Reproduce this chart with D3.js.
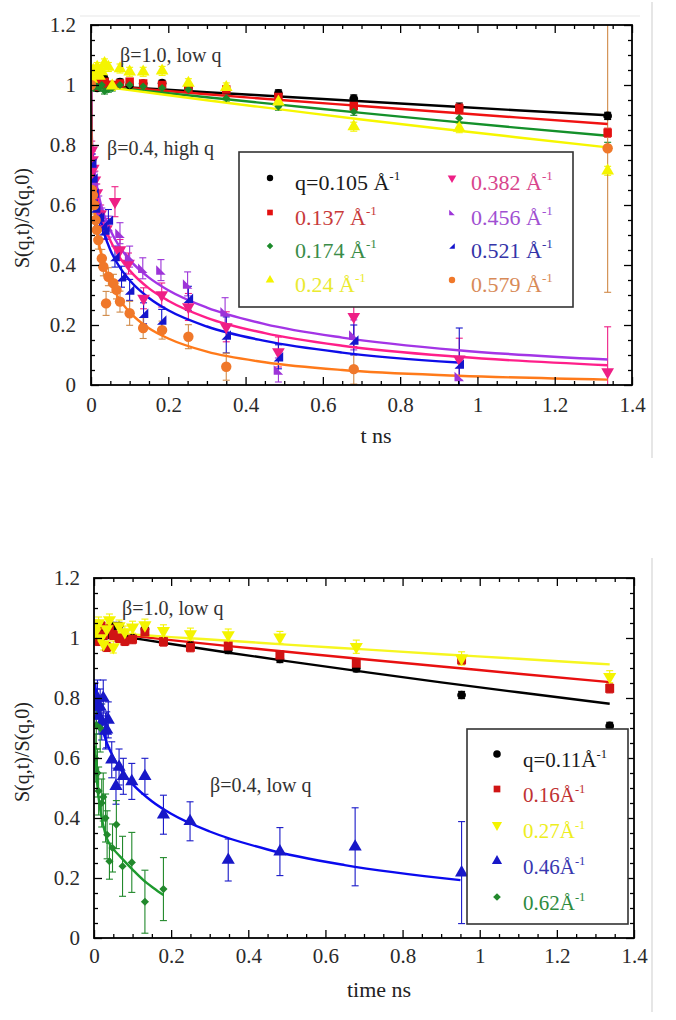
<!DOCTYPE html>
<html><head><meta charset="utf-8">
<script src="https://cdn.jsdelivr.net/npm/d3@7"></script>
<style>body{margin:0;background:#fff}svg{display:block}</style>
</head><body><svg id="c" width="676" height="1020"></svg>
<script>
// ---------------- DATA ----------------
const xTicks = [0, 0.2, 0.4, 0.6, 0.8, 1, 1.2, 1.4];
const yTicks = [0, 0.2, 0.4, 0.6, 0.8, 1, 1.2];
const xMinor = [0.05,0.1,0.15,0.25,0.3,0.35,0.45,0.5,0.55,0.65,0.7,0.75,0.85,0.9,0.95,1.05,1.1,1.15,1.25,1.3,1.35];
const yMinor = [0.05,0.1,0.15,0.25,0.3,0.35,0.45,0.5,0.55,0.65,0.7,0.75,0.85,0.9,0.95,1.05,1.1,1.15];

// top panel, low q (beta = 1.0)
const tTopLow = [0.002, 0.006, 0.01, 0.016, 0.022, 0.028, 0.035, 0.045, 0.055, 0.075, 0.1, 0.135, 0.184, 0.252, 0.35, 0.485, 0.68, 0.953, 1.337];
const topQ105 = [1.0, 1.0, 1.01, 0.99, 1.0, 1.01, 1.02, 1.0, 1.0, 1.01, 1.0, 1.005, 1.006, 0.99, 0.985, 0.972, 0.955, 0.925, 0.897];
const topQ105Err = [0.01,0.01,0.01,0.01,0.01,0.01,0.01,0.01,0.01,0.01,0.01,0.01,0.01,0.01,0.01,0.012,0.012,0.015,0.012];
const topQ137 = [1.0, 1.0, 0.995, 1.01, 1.0, 1.0, 1.01, 1.0, 1.0, 1.005, 1.011, 1.005, 1.0, 0.99, 0.985, 0.96, 0.93, 0.922, 0.841];
const topQ137Err = [0.01,0.01,0.01,0.01,0.01,0.01,0.01,0.01,0.01,0.01,0.01,0.01,0.01,0.01,0.01,0.012,0.015,0.015,0.015];
const topQ174 = [1.0, 0.99, 1.0, 0.995, 0.99, 1.0, 0.98, 0.986, 0.99, 1.0, 1.0, 0.995, 0.99, 0.985, 0.956, 0.928, 0.911, 0.889, 0.794];
const topQ174Err = [0.01,0.01,0.01,0.01,0.01,0.01,0.01,0.01,0.01,0.01,0.01,0.01,0.01,0.01,0.01,0.012,0.012,0.015,0.015];
const topQ240 = [1.02, 1.05, 1.04, 1.06, 1.03, 1.045, 1.072, 1.06, 0.997, 1.055, 1.044, 1.044, 1.047, 1.006, 0.992, 0.944, 0.861, 0.856, 0.714];
const topQ240Err = [0.015,0.015,0.015,0.015,0.015,0.015,0.015,0.015,0.015,0.015,0.015,0.015,0.015,0.015,0.015,0.015,0.015,0.015,0.015];

// top panel, high q (beta = 0.4)
const tTopQ382 = [0.002, 0.004, 0.006, 0.01, 0.015, 0.025, 0.04, 0.062, 0.075, 0.097, 0.136, 0.183, 0.252, 0.35, 0.485, 0.68, 0.953, 1.337];
const topQ382 = [0.783, 0.75, 0.722, 0.683, 0.64, 0.57, 0.52, 0.611, 0.45, 0.405, 0.289, 0.30, 0.26, 0.194, 0.11, 0.228, 0.086, 0.044];
const topQ382Err = [0.03,0.03,0.03,0.03,0.03,0.03,0.035,0.05,0.035,0.035,0.035,0.04,0.045,0.05,0.05,0.1,0.07,0.15];
const tTopQ456 = [0.004, 0.008, 0.013, 0.02, 0.028, 0.045, 0.075, 0.1, 0.134, 0.181, 0.25, 0.347, 0.485, 0.68, 0.953];
const topQ456 = [0.74, 0.68, 0.64, 0.6, 0.56, 0.528, 0.506, 0.428, 0.389, 0.383, 0.337, 0.244, 0.05, 0.167, 0.028];
const topQ456Err = [0.03,0.03,0.03,0.03,0.03,0.035,0.035,0.035,0.035,0.035,0.04,0.047,0.04,0.05,0.03];
const tTopQ521 = [0.002, 0.005, 0.008, 0.012, 0.017, 0.022, 0.03, 0.036, 0.045, 0.062, 0.079, 0.1, 0.136, 0.183, 0.252, 0.35, 0.485, 0.68, 0.953];
const topQ521 = [0.74, 0.69, 0.64, 0.59, 0.561, 0.56, 0.53, 0.517, 0.55, 0.428, 0.361, 0.317, 0.239, 0.217, 0.289, 0.167, 0.094, 0.15, 0.07];
const topQ521Err = [0.03,0.03,0.03,0.03,0.03,0.03,0.03,0.03,0.035,0.035,0.035,0.035,0.035,0.035,0.04,0.06,0.04,0.05,0.12];
const tTopQ579 = [0, 0.002, 0.005, 0.008, 0.012, 0.015, 0.019, 0.028, 0.032, 0.039, 0.045, 0.058, 0.066, 0.075, 0.1, 0.135, 0.184, 0.252, 0.35, 0.68, 1.337];
const topQ579 = [1.0, 0.65, 0.633, 0.6, 0.55, 0.517, 0.483, 0.422, 0.394, 0.272, 0.361, 0.339, 0.317, 0.278, 0.239, 0.19, 0.183, 0.161, 0.061, 0.053, 0.789];
const topQ579Err = [0.01,0.03,0.03,0.03,0.03,0.03,0.03,0.03,0.03,0.04,0.03,0.03,0.03,0.035,0.04,0.035,0.03,0.04,0.045,0.05,0.48];

// top panel fit curves
const fitTopLowT = [0, 0.1, 0.3, 0.5, 0.7, 0.9, 1.1, 1.337];
const fitTopQ105 = [1.0, 0.992, 0.976, 0.961, 0.946, 0.931, 0.916, 0.899];
const fitTopQ137 = [1.0, 0.990, 0.969, 0.949, 0.930, 0.911, 0.892, 0.870];
const fitTopQ174 = [1.0, 0.986, 0.959, 0.933, 0.907, 0.882, 0.858, 0.831];
const fitTopQ240 = [1.0, 0.983, 0.949, 0.917, 0.885, 0.855, 0.826, 0.792];
const fitTopHighT = [0, 0.002, 0.005, 0.01, 0.02, 0.035, 0.05, 0.075, 0.1, 0.15, 0.2, 0.3, 0.45, 0.65, 0.95, 1.337];
const fitTopQ382 = [1.0, 0.818, 0.748, 0.682, 0.603, 0.531, 0.482, 0.424, 0.382, 0.322, 0.281, 0.224, 0.173, 0.131, 0.094, 0.066];
const fitTopQ456 = [1.0, 0.833, 0.768, 0.706, 0.632, 0.563, 0.516, 0.459, 0.417, 0.358, 0.316, 0.258, 0.203, 0.158, 0.116, 0.085];
const fitTopQ521 = [1.0, 0.802, 0.728, 0.658, 0.575, 0.501, 0.450, 0.391, 0.349, 0.290, 0.249, 0.195, 0.147, 0.108, 0.075];
const fitTopQ579 = [1.0, 0.744, 0.652, 0.569, 0.476, 0.395, 0.342, 0.283, 0.243, 0.189, 0.155, 0.111, 0.076, 0.050, 0.031, 0.018];

// bottom panel data
const tBotLow = [0.003, 0.007, 0.012, 0.018, 0.025, 0.033, 0.04, 0.05, 0.065, 0.08, 0.1, 0.132, 0.18, 0.25, 0.348, 0.482, 0.68, 0.953, 1.337];
const botQ11 = [1.02, 1.0, 1.03, 1.0, 1.02, 1.01, 1.03, 1.04, 1.04, 1.0, 1.0, 1.03, 0.99, 0.975, 0.96, 0.93, 0.899, 0.81, 0.707];
const botQ11Err = [0.012,0.012,0.012,0.012,0.012,0.012,0.012,0.012,0.012,0.012,0.012,0.012,0.012,0.012,0.012,0.012,0.012,0.012,0.012];
const botQ16 = [1.0, 1.03, 0.99, 1.04, 1.01, 0.97, 1.03, 1.01, 1.0, 0.99, 0.996, 1.02, 0.988, 0.969, 0.973, 0.943, 0.916, 0.927, 0.832];
const botQ16Err = [0.015,0.015,0.015,0.015,0.015,0.015,0.015,0.015,0.015,0.015,0.015,0.015,0.015,0.015,0.015,0.015,0.015,0.015,0.015];
const botQ27 = [1.02, 1.04, 1.05, 1.0, 0.98, 1.03, 1.06, 0.97, 1.04, 1.02, 1.036, 1.043, 1.024, 1.013, 1.01, 1.002, 0.971, 0.932, 0.871];
const botQ27Err = [0.02,0.02,0.02,0.02,0.02,0.02,0.02,0.02,0.02,0.02,0.02,0.02,0.02,0.02,0.02,0.02,0.022,0.022,0.02];
const tBotQ46 = [0.003, 0.006, 0.009, 0.013, 0.016, 0.02, 0.024, 0.03, 0.033, 0.037, 0.046, 0.057, 0.065, 0.076, 0.098, 0.132, 0.18, 0.249, 0.348, 0.482, 0.677, 0.953];
const botQ46 = [0.79, 0.77, 0.80, 0.74, 0.77, 0.72, 0.80, 0.69, 0.694, 0.727, 0.594, 0.506, 0.57, 0.539, 0.522, 0.539, 0.411, 0.389, 0.26, 0.288, 0.304, 0.218];
const botQ46Err = [0.06,0.06,0.06,0.06,0.06,0.06,0.06,0.06,0.06,0.06,0.06,0.06,0.06,0.06,0.06,0.06,0.065,0.065,0.07,0.08,0.13,0.17];
const tBotQ62 = [0.003, 0.006, 0.009, 0.012, 0.016, 0.02, 0.024, 0.03, 0.034, 0.04, 0.048, 0.058, 0.074, 0.098, 0.132, 0.18];
const botQ62 = [0.60, 0.71, 0.55, 0.49, 0.70, 0.45, 0.47, 0.40, 0.344, 0.256, 0.30, 0.378, 0.239, 0.252, 0.121, 0.163];
const botQ62Err = [0.08,0.08,0.08,0.08,0.08,0.08,0.08,0.08,0.08,0.06,0.08,0.08,0.1,0.1,0.105,0.105];

// bottom panel fit curves
const fitBotLowT = [0, 0.1, 0.2, 0.35, 0.5, 0.7, 0.9, 1.1, 1.337];
const fitBotQ11 = [1.02, 1.0, 0.980, 0.951, 0.923, 0.887, 0.852, 0.819, 0.781];
const fitBotQ16 = [1.02, 1.007, 0.993, 0.973, 0.954, 0.929, 0.905, 0.881, 0.853];
const fitBotQ27 = [1.02, 1.012, 1.003, 0.991, 0.978, 0.962, 0.946, 0.931, 0.912];
const fitBotQ46T = [0.003, 0.005, 0.01, 0.02, 0.035, 0.05, 0.075, 0.1, 0.15, 0.2, 0.3, 0.45, 0.65, 0.95];
const fitBotQ46 = [0.849, 0.817, 0.766, 0.704, 0.645, 0.603, 0.551, 0.513, 0.456, 0.414, 0.355, 0.295, 0.243, 0.193];
const fitBotQ62T = [0.003, 0.008, 0.016, 0.025, 0.033, 0.05, 0.0674, 0.1, 0.128, 0.155, 0.18];
const fitBotQ62 = [0.64, 0.52, 0.43, 0.37, 0.333, 0.297, 0.272, 0.228, 0.193, 0.166, 0.143];

// ---------------- DRAWING ----------------
const FONT = '"Liberation Serif","Times New Roman",serif';
const svg = d3.select('#c');

// custom symbols
const halfLeft = {draw(ctx, size){ const r = Math.sqrt(size)/2; ctx.moveTo(-r,-r); ctx.lineTo(-r,r); ctx.lineTo(r,r); ctx.closePath(); }};
const halfRight = {draw(ctx, size){ const r = Math.sqrt(size)/2; ctx.moveTo(r,-r); ctx.lineTo(r,r); ctx.lineTo(-r,r); ctx.closePath(); }};
const diamond = {draw(ctx, size){ const r = Math.sqrt(size)/2*1.15; ctx.moveTo(0,-r); ctx.lineTo(r,0); ctx.lineTo(0,r); ctx.lineTo(-r,0); ctx.closePath(); }};

// faint page frame lines
svg.append('line').attr('x1',652).attr('x2',652).attr('y1',2).attr('y2',458).attr('stroke','#e6e6e6').attr('stroke-width',2);
svg.append('line').attr('x1',652).attr('x2',652).attr('y1',558).attr('y2',1012).attr('stroke','#e6e6e6').attr('stroke-width',2);
svg.append('line').attr('x1',80).attr('x2',640).attr('y1',16).attr('y2',16).attr('stroke','#f3f3f3').attr('stroke-width',2);

function drawPanel(p) {
  const x = d3.scaleLinear().domain([0, 1.4]).range([p.x0, p.x1]);
  const y = d3.scaleLinear().domain([0, 1.2]).range([p.y1, p.y0]);
  const clipId = 'clip' + p.id;
  svg.append('clipPath').attr('id', clipId).append('rect')
    .attr('x', p.x0).attr('y', p.y0).attr('width', p.x1 - p.x0).attr('height', p.y1 - p.y0);
  const plot = svg.append('g').attr('clip-path', `url(#${clipId})`);
  const line = d3.line().x(d => x(d[0])).y(d => y(d[1])).curve(d3.curveMonotoneX);

  // error bars + markers
  p.series.forEach(s => {
    const pts = s.t.map((t, i) => ({t, v: s.v[i], e: s.e[i]}));
    const eg = plot.append('g').attr('stroke', s.ecolor || s.color).attr('stroke-width', 1.1);
    pts.forEach(d => {
      const cx = x(d.t), ya = y(d.v + d.e), yb = y(d.v - d.e);
      eg.append('line').attr('x1', cx).attr('x2', cx).attr('y1', ya).attr('y2', yb);
      eg.append('line').attr('x1', cx - 3.5).attr('x2', cx + 3.5).attr('y1', ya).attr('y2', ya);
      eg.append('line').attr('x1', cx - 3.5).attr('x2', cx + 3.5).attr('y1', yb).attr('y2', yb);
    });
  });
  // fit lines
  p.fits.forEach(f => {
    plot.append('path').datum(f.t.map((t, i) => [t, f.v[i]]))
      .attr('d', line).attr('fill', 'none').attr('stroke', f.color).attr('stroke-width', 2.4);
  });
  p.series.forEach(s => {
    const pts = s.t.map((t, i) => ({t, v: s.v[i]}));
    plot.append('g').selectAll('path').data(pts).join('path')
      .attr('transform', d => `translate(${x(d.t)},${y(d.v)})${s.rot ? ' rotate(180)' : ''}`)
      .attr('d', d3.symbol(s.sym, s.size)).attr('fill', s.color);
  });

  // axes (ticks inward)
  const axG = svg.append('g').attr('font-family', FONT);
  const mk = (axis, vals, size, tf, pad) => axis.tickValues(vals).tickSizeInner(-size).tickSizeOuter(0).tickPadding(pad || 0).tickFormat(tf || '');
  const fmt = d3.format('~g');
  const addAxis = (axis, tr) => {
    const g = axG.append('g').attr('transform', tr).call(axis);
    g.select('.domain').remove();
    g.selectAll('line').attr('stroke', '#000').attr('stroke-width', 1.3);
    g.selectAll('text').attr('font-size', 21).attr('fill', '#2a2a2a').attr('font-family', FONT);
    return g;
  };
  addAxis(mk(d3.axisBottom(x), xTicks, 8, fmt, p.xpad), `translate(0,${p.y1})`);
  addAxis(mk(d3.axisBottom(x), xMinor, 4), `translate(0,${p.y1})`);
  addAxis(mk(d3.axisTop(x), xTicks, 8), `translate(0,${p.y0})`);
  addAxis(mk(d3.axisTop(x), xMinor, 4), `translate(0,${p.y0})`);
  addAxis(mk(d3.axisLeft(y), yTicks, 8, fmt, p.ypad), `translate(${p.x0},0)`);
  addAxis(mk(d3.axisLeft(y), yMinor, 4), `translate(${p.x0},0)`);
  addAxis(mk(d3.axisRight(y), yTicks, 8), `translate(${p.x1},0)`);
  addAxis(mk(d3.axisRight(y), yMinor, 4), `translate(${p.x1},0)`);

  svg.append('rect').attr('x', p.x0).attr('y', p.y0).attr('width', p.x1 - p.x0).attr('height', p.y1 - p.y0)
    .attr('fill', 'none').attr('stroke', '#000').attr('stroke-width', 1.8);

  // axis titles
  svg.append('text').attr('x', p.xtx).attr('y', p.xty).attr('text-anchor', 'middle')
    .attr('font-family', FONT).attr('font-size', 22).attr('fill', '#222').text(p.xtitle);
  svg.append('text').attr('transform', `translate(${p.ytx},${p.yty}) rotate(-90)`).attr('text-anchor', 'middle')
    .attr('font-family', FONT).attr('font-size', 20).attr('fill', '#222').text('S(q,t)/S(q,0)');

  // annotations
  p.notes.forEach(n => {
    svg.append('text').attr('x', n.x).attr('y', n.y).attr('font-family', FONT).attr('font-size', 20)
      .attr('fill', '#333').text(n.text);
  });

  // legend
  const L = p.legend;
  svg.append('rect').attr('x', L.x).attr('y', L.y).attr('width', L.w).attr('height', L.h)
    .attr('fill', '#fff').attr('stroke', '#333').attr('stroke-width', 1.6);
  L.items.forEach(it => {
    const s = p.series[it.idx];
    svg.append('path').attr('transform', `translate(${it.mx},${it.my})${s.rot ? ' rotate(180)' : ''}`)
      .attr('d', d3.symbol(s.sym, L.msize)).attr('fill', s.color);
    const t = svg.append('text').attr('x', it.tx).attr('y', it.ty).attr('font-family', FONT)
      .attr('font-size', L.fs).attr('fill', it.tcolor);
    t.append('tspan').text(it.label);
    t.append('tspan').attr('dy', -L.fs * 0.45).attr('font-size', L.fs * 0.6).text('-1');
  });
}

// ---- top panel ----
const topSeries = [
  {t: tTopLow, v: topQ105, e: topQ105Err, color: '#000', sym: d3.symbolCircle, size: 60},
  {t: tTopLow, v: topQ137, e: topQ137Err, color: '#e31010', sym: d3.symbolSquare, size: 72},
  {t: tTopLow, v: topQ174, e: topQ174Err, color: '#1b8a2a', sym: diamond, size: 50},
  {t: tTopLow, v: topQ240, e: topQ240Err, color: '#f4f400', sym: d3.symbolTriangle, size: 70},
  {t: tTopQ382, v: topQ382, e: topQ382Err, color: '#ee1f86', sym: d3.symbolTriangle, size: 70, rot: true},
  {t: tTopQ456, v: topQ456, e: topQ456Err, color: '#9d34d8', sym: halfLeft, size: 90},
  {t: tTopQ521, v: topQ521, e: topQ521Err, color: '#1515cc', sym: halfRight, size: 90},
  {t: tTopQ579, v: topQ579, e: topQ579Err, color: '#f0782a', ecolor: '#d08a48', sym: d3.symbolCircle, size: 85}
];
drawPanel({
  id: 'top', x0: 91, x1: 632, y0: 25, y1: 385, xpad: 12, ypad: 15,
  xtitle: 't ns', xtx: 376, xty: 443, ytx: 29, yty: 218,
  series: topSeries,
  fits: [
    {t: fitTopLowT, v: fitTopQ105, color: '#000'},
    {t: fitTopLowT, v: fitTopQ137, color: '#f01212'},
    {t: fitTopLowT, v: fitTopQ174, color: '#14902a'},
    {t: fitTopLowT, v: fitTopQ240, color: '#f6f600'},
    {t: fitTopHighT, v: fitTopQ456, color: '#a335e6'},
    {t: fitTopHighT, v: fitTopQ382, color: '#ff1f8a'},
    {t: fitTopHighT.slice(0, 15), v: fitTopQ521, color: '#0d0de8'},
    {t: fitTopHighT, v: fitTopQ579, color: '#ff7a1a'}
  ],
  notes: [{x: 120, y: 62, text: 'β=1.0, low q'}, {x: 107, y: 155, text: 'β=0.4, high q'}],
  legend: {x: 239, y: 152, w: 334, h: 155, fs: 22, msize: 32, items: [
    {idx: 0, mx: 270, my: 178, tx: 295, ty: 190, label: 'q=0.105 Å', tcolor: '#1a1a1a'},
    {idx: 1, mx: 270, my: 212.5, tx: 295, ty: 225, label: '0.137 Å', tcolor: '#c83a3a'},
    {idx: 2, mx: 270, my: 246, tx: 295, ty: 258, label: '0.174 Å', tcolor: '#3a8c48'},
    {idx: 3, mx: 270, my: 280, tx: 295, ty: 292, label: '0.24 Å', tcolor: '#eaea30'},
    {idx: 4, mx: 452, my: 178, tx: 471, ty: 190, label: '0.382 Å', tcolor: '#d8458c'},
    {idx: 5, mx: 452, my: 212.5, tx: 471, ty: 225, label: '0.456 Å', tcolor: '#a050d2'},
    {idx: 6, mx: 452, my: 246, tx: 471, ty: 258, label: '0.521 Å', tcolor: '#3434a8'},
    {idx: 7, mx: 452, my: 280, tx: 471, ty: 292, label: '0.579 Å', tcolor: '#d88a58'}
  ]}
});

// ---- bottom panel ----
const botSeries = [
  {t: tBotLow, v: botQ11, e: botQ11Err, color: '#000', sym: d3.symbolCircle, size: 60},
  {t: tBotLow, v: botQ16, e: botQ16Err, color: '#d01414', sym: d3.symbolSquare, size: 80},
  {t: tBotLow, v: botQ27, e: botQ27Err, color: '#f4f400', sym: d3.symbolTriangle, size: 75, rot: true},
  {t: tBotQ46, v: botQ46, e: botQ46Err, color: '#1818c8', sym: d3.symbolTriangle, size: 75},
  {t: tBotQ62, v: botQ62, e: botQ62Err, color: '#22892c', sym: diamond, size: 50}
];
drawPanel({
  id: 'bot', x0: 94, x1: 634, y0: 578, y1: 938, xpad: 10, ypad: 14,
  xtitle: 'time ns', xtx: 379, xty: 997, ytx: 29, yty: 752,
  series: botSeries,
  fits: [
    {t: fitBotLowT, v: fitBotQ11, color: '#000'},
    {t: fitBotLowT, v: fitBotQ16, color: '#e81010'},
    {t: fitBotLowT, v: fitBotQ27, color: '#f6f620'},
    {t: fitBotQ46T, v: fitBotQ46, color: '#0a0aee'},
    {t: fitBotQ62T, v: fitBotQ62, color: '#1e9a2e'}
  ],
  notes: [{x: 122, y: 615, text: 'β=1.0, low q'}, {x: 210, y: 792, text: 'β=0.4, low q'}],
  legend: {x: 467, y: 729, w: 161, h: 195, fs: 21, msize: 45, items: [
    {idx: 0, mx: 497, my: 754, tx: 523, ty: 767, label: 'q=0.11Å', tcolor: '#1a1a1a'},
    {idx: 1, mx: 497, my: 789, tx: 523, ty: 802, label: '0.16Å', tcolor: '#c03232'},
    {idx: 2, mx: 497, my: 825, tx: 523, ty: 838, label: '0.27Å', tcolor: '#eeee20'},
    {idx: 3, mx: 497, my: 861, tx: 523, ty: 874, label: '0.46Å', tcolor: '#3838b0'},
    {idx: 4, mx: 497, my: 897, tx: 523, ty: 910, label: '0.62Å', tcolor: '#2e8b3e'}
  ]}
});
</script></body></html>
